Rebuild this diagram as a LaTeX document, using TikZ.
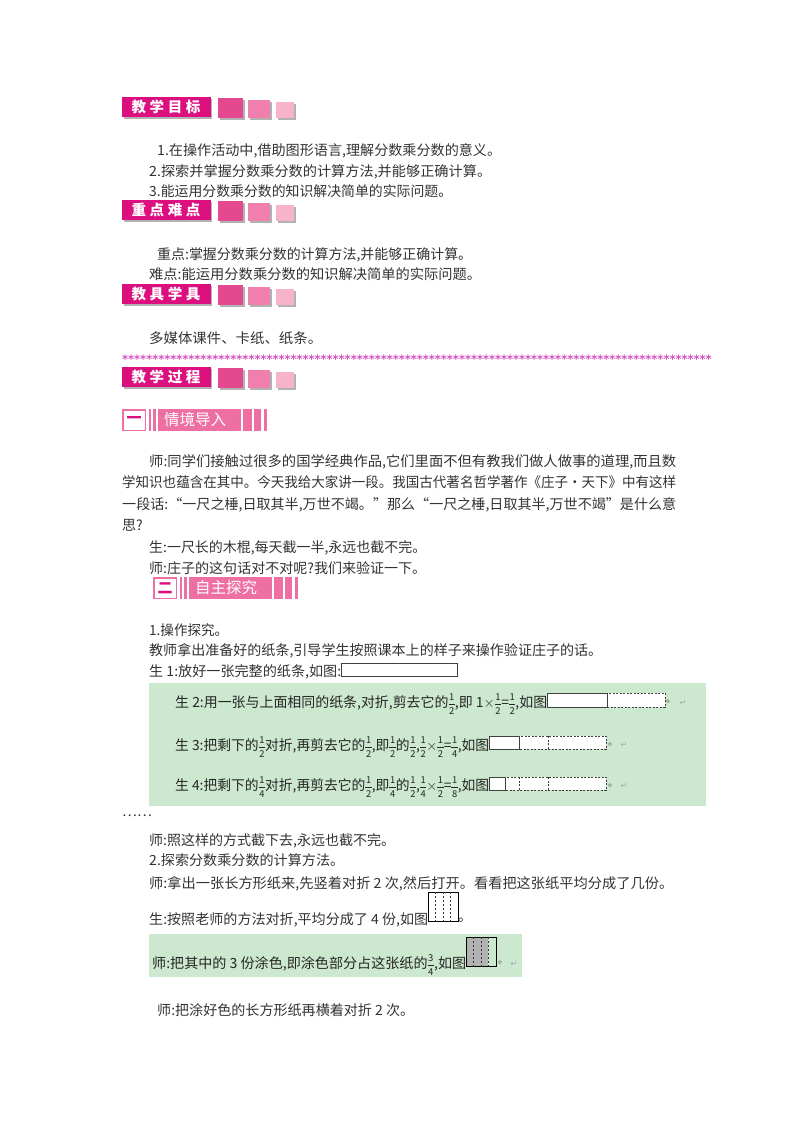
\documentclass[tikz,border=0pt]{standalone}
\usepackage{graphicx}
\usepackage{fontspec}
\setmainfont{Noto Sans CJK SC}
\newfontfamily\banfont[LetterSpace=25]{Noto Sans CJK SC}
\newfontfamily\starfont{DejaVu Sans}
\newfontfamily\djv{DejaVu Sans}
\newcommand\fr[2]{\raisebox{-7.5pt}{\vbox{\hbox to 6.5pt{\hss\fontsize{9.5}{10}\selectfont #1\hss}\kern3.5pt\hrule height .4pt\kern3.5pt\hbox to 6.5pt{\hss\fontsize{9.5}{10}\selectfont #2\hss}}}}
\newcommand\fitw[2]{\resizebox{#1pt}{\height}{#2}}
\definecolor{tx}{HTML}{333333}
\definecolor{gbox}{HTML}{CCE8CF}
\definecolor{mag}{HTML}{DC0F7F}
\definecolor{pa}{HTML}{E4498F}
\definecolor{pb}{HTML}{F07FAD}
\definecolor{pc}{HTML}{F7B3CC}
\definecolor{psec}{HTML}{EE6FA2}
\tikzset{
 x=1pt,y=-1pt,
 txt/.style={anchor=west,inner sep=0pt,yshift=-1.5pt,text=tx,font=\fontsize{14}{16}\selectfont},
 gtxt/.style={anchor=base west,inner sep=0pt,text=black!85,font=\fontsize{14}{16}\selectfont},
 ban/.style={anchor=center,inner sep=0pt,text=white,font=\banfont\bfseries\fontsize{14.5}{16}\selectfont},
 sectitle/.style={anchor=center,inner sep=0pt,text=white,font=\fontsize{15.5}{18}\selectfont},
 secnum/.style={anchor=center,inner sep=0pt,text=mag,font=\bfseries\fontsize{15}{18}\selectfont},
 markstop/.style={anchor=west,inner sep=0pt,text=black!70,font=\fontsize{10}{12}\selectfont},
 markret/.style={anchor=center,inner sep=0pt,text=black!35,font=\djv\fontsize{8}{10}\selectfont},
 solidstrip/.style={draw=black!75,line width=0.9pt,fill=white},
 dashstrip/.style={draw=black!75,line width=0.8pt,dash pattern=on 2pt off 1.5pt,fill=white},
}
\newcommand\banner[2]{%
 \fill[black!30] (123.5,#1+1.5) rectangle (212,#1+21.5);
 \fill[mag] (122,#1) rectangle (211,#1+20);
 \node[ban] at (166,#1+10) {#2};
 \fill[black!30] (219.5,#1+2.5) rectangle (244.5,#1+22.5);
 \fill[pa] (218,#1+1) rectangle (243,#1+21);
 \fill[black!30] (249.5,#1+4.5) rectangle (271.5,#1+22.5);
 \fill[pb] (248,#1+3) rectangle (270,#1+21);
 \fill[black!30] (277.5,#1+6.5) rectangle (295.5,#1+22.5);
 \fill[pc] (276,#1+5) rectangle (294,#1+21);
}
\newcommand\secbar[4]{% x, y, number, title
 \fill[psec] (#1,#2) rectangle (#1+24,#2+22);
 \fill[white] (#1+1.5,#2+1.5) rectangle (#1+22.5,#2+20.5);
 \node[secnum] at (#1+12,#2+11) {#3};
 \fill[psec] (#1+27,#2) rectangle (#1+29,#2+22);
 \fill[psec] (#1+31,#2) rectangle (#1+34,#2+22);
 \fill[psec] (#1+36,#2) rectangle (#1+119,#2+22);
 \node[sectitle] at (#1+73,#2+11) {#4};
 \fill[psec] (#1+121,#2) rectangle (#1+130,#2+22);
 \fill[psec] (#1+132,#2) rectangle (#1+139,#2+22);
 \fill[psec] (#1+142,#2) rectangle (#1+145,#2+22);
}
\begin{document}
\begin{tikzpicture}
\useasboundingbox (0,0) rectangle (800,1132);
\fill[white] (0,0) rectangle (800,1132);

\banner{97}{教学目标}
\node[txt] (a1) at (157,149) {\fitw{344}{1.在操作活动中,借助图形语言,理解分数乘分数的意义。}};
\node[txt] (a2) at (149,170) {\fitw{342}{2.探索并掌握分数乘分数的计算方法,并能够正确计算。}};
\node[txt] (a3) at (149,190) {\fitw{303}{3.能运用分数乘分数的知识解决简单的实际问题。}};
\banner{200}{重点难点}
\node[txt] (b1) at (157,253) {\fitw{315}{重点:掌握分数乘分数的计算方法,并能够正确计算。}};
\node[txt] (b2) at (149,273) {\fitw{332}{难点:能运用分数乘分数的知识解决简单的实际问题。}};
\banner{284}{教具学具}
\node[txt] (c1) at (149,337) {\fitw{173}{多媒体课件、卡纸、纸条。}};
\def\ten{**********}
\node[anchor=base west,inner sep=0pt,text={rgb,255:red,214;green,80;blue,190},font=\starfont\bfseries\fontsize{11.5}{12}\selectfont] (stars) at (122,363) {\ten\ten\ten\ten\ten\ten\ten\ten\ten********};
\banner{367}{教学过程}
\secbar{122}{409}{一}{情境导入}

\node[txt] (d1) at (149,460) {\fitw{527}{师:同学们接触过很多的国学经典作品,它们里面不但有教我们做人做事的道理,而且数}};
\node[txt] (d2) at (122,481) {\fitw{554}{学知识也蕴含在其中。今天我给大家讲一段。我国古代著名哲学著作《庄子·天下》中有这样}};
\node[txt] (d3) at (122,503) {\fitw{554}{一段话:“一尺之棰,日取其半,万世不竭。”那么“一尺之棰,日取其半,万世不竭”是什么意}};
\node[txt] (d4) at (122,524) {思?};
\node[txt] (d5) at (149,546) {\fitw{277}{生:一尺长的木棍,每天截一半,永远也截不完。}};
\node[txt] (d6) at (149,567) {\fitw{277}{师:庄子的这句话对不对呢?我们来验证一下。}};
\secbar{153}{577}{二}{自主探究}

\node[txt] (e1) at (149,629) {\fitw{79}{1.操作探究。}};
\node[txt] (e2) at (149,649) {\fitw{453}{教师拿出准备好的纸条,引导学生按照课本上的样子来操作验证庄子的话。}};
\node[txt] (e3) at (149,670) {\fitw{192}{生 1:放好一张完整的纸条,如图:}};
\draw[solidstrip] (341,663.5) rectangle (457,676);

\fill[gbox] (149,683) rectangle (706,806);
\node[gtxt] (f1) at (175,707) {\fitw{372}{生 2:用一张与上面相同的纸条,对折,剪去它的\fr12,即 1$\times$\fr12=\fr12,如图}};
\draw[dashstrip] (607,693) rectangle (665,707);
\draw[solidstrip] (547.5,693) rectangle (607,707);
\node[markstop] (f1m) at (666,702) {。};
\node[markret] (f1r) at (683,703) {↵};

\node[gtxt] (f2) at (175,750) {\fitw{314}{生 3:把剩下的\fr12对折,再剪去它的\fr12,即\fr12的\fr12,\fr12$\times$\fr12=\fr14,如图}};
\draw[dashstrip] (519,736) rectangle (606,749);
\draw[dashstrip] (548,736) -- (548,749);
\draw[solidstrip] (489.5,736) rectangle (519,749);
\node[markstop] (f2m) at (608,745) {。};
\node[markret] (f2r) at (624,745) {↵};

\node[gtxt] (f3) at (175,790) {\fitw{314}{生 4:把剩下的\fr14对折,再剪去它的\fr12,即\fr14的\fr12,\fr14$\times$\fr12=\fr18,如图}};
\draw[dashstrip] (505,777) rectangle (606,790);
\draw[dashstrip] (548,777) -- (548,790);
\draw[dashstrip] (519,777) -- (519,790);
\draw[solidstrip] (489.5,777) rectangle (505,790);
\node[markstop] (f3m) at (608,786) {。};
\node[markret] (f3r) at (624,786) {↵};

\node[txt] (g0) at (122,814) {……};
\node[txt] (g1) at (149,839) {\fitw{246}{师:照这样的方式截下去,永远也截不完。}};
\node[txt] (g2) at (149,859) {\fitw{195}{2.探索分数乘分数的计算方法。}};
\node[txt] (g3) at (149,882) {\fitw{524}{师:拿出一张长方形纸来,先竖着对折 2 次,然后打开。看看把这张纸平均分成了几份。}};
\node[txt] (g4) at (149,918) {\fitw{279}{生:按照老师的方法对折,平均分成了 4 份,如图}};
\draw[black,line width=0.8pt] (428,892) rectangle (458,921);
\foreach \xx in {435.5,443,450.5} \draw[black!80,line width=0.8pt,dash pattern=on 2pt off 2pt] (\xx,892) -- (\xx,921);
\node[txt] (g4m) at (458,919) {。};

\fill[gbox] (149,934) rectangle (522,977);
\node[gtxt] (h1) at (152,968) {\fitw{314}{师:把其中的 3 份涂色,即涂色部分占这张纸的\fr34,如图}};
\fill[black!30] (466,937) rectangle (488,966);
\draw[black,line width=0.8pt] (466,937) rectangle (496,966);
\foreach \xx in {473.5,481,488.5} \draw[black!80,line width=0.8pt,dash pattern=on 2pt off 2pt] (\xx,937) -- (\xx,966);
\node[markstop] (h1m) at (498,963) {。};
\node[markret] (h1r) at (514,964) {↵};

\node[txt] (k1) at (157,1009) {\fitw{257}{师:把涂好色的长方形纸再横着对折 2 次。}};
\end{tikzpicture}
\end{document}
